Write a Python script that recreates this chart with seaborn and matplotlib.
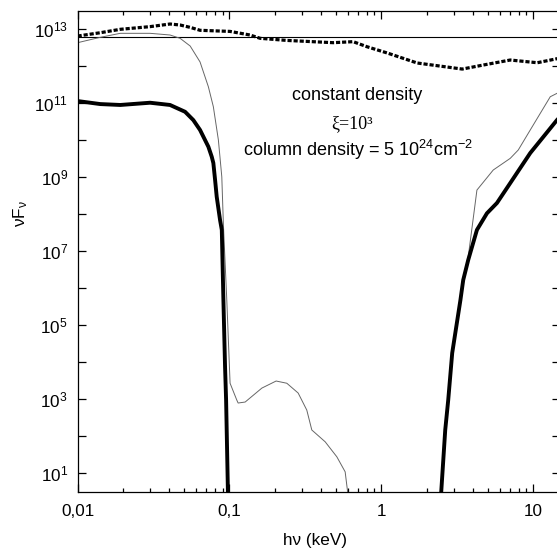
import matplotlib
matplotlib.use("Agg")
import matplotlib.pyplot as plt
import numpy as np
import pandas as pd
import seaborn as sns
from matplotlib.ticker import FixedLocator, FuncFormatter, NullLocator

# ---------------- data ----------------
hv_const = [0.01, 15.0]
flux_const = [5.8e12, 5.8e12]

hv_dotted = [0.0100, 0.0141, 0.0191, 0.0300, 0.0406, 0.0473, 0.0551, 0.0640,
             0.1009, 0.1364, 0.1592, 0.2385, 0.4815, 0.652, 0.803, 1.092,
             1.721, 3.406, 4.685, 7.056, 10.63, 15.0]
flux_dotted = [6.3e12, 7.74e12, 9.57e12, 1.13e13, 1.33e13, 1.25e13, 1.08e13, 9.0e12,
               8.4e12, 6.72e12, 5.47e12, 4.8e12, 4.17e12, 4.44e12, 3.25e12, 2.20e12,
               1.18e12, 8.1e11, 1.04e12, 1.42e12, 1.20e12, 1.6e12]

hv_thick_lo = [0.0100, 0.0141, 0.0191, 0.0300, 0.0406, 0.0510, 0.0578, 0.0640,
               0.0726, 0.0764, 0.0783, 0.0804, 0.0824, 0.0867, 0.0890, 0.0912,
               0.0935, 0.0950, 0.0982]
flux_thick_lo = [1.11e11, 9.2e10, 8.7e10, 1.0e11, 8.7e10, 5.7e10, 3.4e10, 1.84e10,
                 6.5e9, 3.5e9, 2.36e9, 8.2e8, 2.9e8, 6.8e7, 3.7e7, 4.75e5,
                 7.5e3, 950, 1.0]

hv_thin_lo = [0.0100, 0.0141, 0.0191, 0.0300, 0.0406, 0.0473, 0.0551, 0.0640,
              0.0726, 0.0783, 0.0845, 0.0890, 0.0912, 0.0960, 0.1009, 0.1117,
              0.1140, 0.1268, 0.1634, 0.2028, 0.2385, 0.2832, 0.3228, 0.3483,
              0.4266, 0.509, 0.5775, 0.5999, 0.62]
flux_thin_lo = [4.17e12, 5.82e12, 7.46e12, 7.46e12, 6.72e12, 5.47e12, 3.39e12, 1.26e12,
                2.70e11, 7.8e10, 9.9e9, 1.0e9, 5e7, 4.75e5, 2.7e3, 950,
                790, 840, 2.0e3, 3.1e3, 2.7e3, 1.47e3, 510, 148,
                71, 28, 11, 3.1, 1.0]

hv_thick_hi = [2.42, 2.477, 2.633, 2.755, 2.927, 3.315, 3.459, 3.73, 4.257,
               4.955, 5.767, 7.056, 9.556, 14.32, 15.0]
flux_thick_hi = [1.0, 3.1, 148, 950, 1.77e4, 4.75e5, 1.65e6, 5.7e6, 3.7e7,
                 1.04e8, 1.97e8, 6.8e8, 4.4e9, 3.4e10, 4.2e10]

hv_thin_hi = [2.42, 2.477, 2.633, 2.755, 2.927, 3.315, 3.459, 3.68, 4.257,
              5.452, 7.056, 7.965, 9.556, 12.94, 14.32, 15.0]
flux_thin_hi = [1.0, 3.1, 148, 950, 1.77e4, 4.75e5, 1.65e6, 4.5e6, 4.4e8,
                1.53e9, 3.16e9, 5.3e9, 1.84e10, 1.45e11, 1.79e11, 2.0e11]

x_major = [0.01, 0.1, 1, 10]
x_major_labels = ["0,01", "0,1", "1", "10"]
y_exponents = list(range(0, 15))

# ---------------- style ----------------
sns.set_theme(style="ticks")
plt.rcParams.update({
    "font.family": ["Liberation Sans", "DejaVu Sans"],
    "mathtext.fontset": "custom",
    "mathtext.rm": "Liberation Sans",
    "mathtext.it": "Liberation Sans:italic",
    "mathtext.bf": "Liberation Sans:bold",
    "axes.edgecolor": "black",
    "axes.linewidth": 0.9,
    "xtick.color": "black",
    "ytick.color": "black",
    "text.color": "black",
    "axes.labelcolor": "black",
    "figure.facecolor": "white",
    "axes.facecolor": "white",
})

fig = plt.figure(figsize=(5.57, 5.52), dpi=100)
ax = fig.add_axes([77.6 / 557, 60 / 552, (560 - 77.6) / 557, (492 - 11) / 552])
ax.set_xscale("log")
ax.set_yscale("log")

def draw(x, y, **kw):
    df = pd.DataFrame({"hv": x, "flux": y})
    sns.lineplot(data=df, x="hv", y="flux", ax=ax, sort=False, estimator=None, **kw)

draw(hv_const, flux_const, color="black", linewidth=0.8)
draw(hv_thin_lo, flux_thin_lo, color="#666666", linewidth=0.7)
draw(hv_thin_hi, flux_thin_hi, color="#666666", linewidth=0.7)
draw(hv_thick_lo, flux_thick_lo, color="black", linewidth=2.8)
draw(hv_thick_hi, flux_thick_hi, color="black", linewidth=2.8)
draw(hv_dotted, flux_dotted, color="black", linewidth=2.3, linestyle=(0, (1.3, 0.6)))

ax.set_xlim(0.01, 15.0)
ax.set_ylim(10 ** 0.497, 10 ** 13.475)

ax.xaxis.set_major_locator(FixedLocator(x_major))
ax.xaxis.set_major_formatter(FuncFormatter(
    lambda v, p: x_major_labels[x_major.index(v)] if v in x_major else ""))
ax.xaxis.set_minor_locator(FixedLocator(
    [m * 10.0 ** d for d in range(-2, 2) for m in range(2, 10)]))

ax.yaxis.set_major_locator(FixedLocator([10.0 ** k for k in y_exponents]))
ax.yaxis.set_major_formatter(FuncFormatter(
    lambda v, p: (r"$10^{%d}$" % round(np.log10(v))) if round(np.log10(v)) % 2 == 1 else ""))
ax.yaxis.set_minor_locator(NullLocator())

ax.tick_params(which="both", direction="in", top=True, right=True, width=0.9)
ax.tick_params(which="major", length=5.8, labelsize=12.3)
ax.tick_params(which="minor", length=2.9)
ax.tick_params(axis="y", pad=7)
ax.tick_params(axis="x", pad=8.5)
ax.spines["right"].set_visible(False)

ax.set_xlabel("hν (keV)", fontsize=12.3)
ax.xaxis.set_label_coords((315 - 77.6) / 482.4, (492 - 540) / 481)
ax.xaxis.label.set_va("center")
ax.set_ylabel(r"$\mathrm{\nu F_{\nu}}$", fontsize=12.3)
ax.yaxis.set_label_coords((21 - 77.6) / 482.4, (492 - 214) / 481)
ax.yaxis.label.set_va("center")

def ax_xy(px, py):
    return (px - 77.6) / 482.4, (492 - py) / 481

x0, y0 = ax_xy(357, 100)
ax.text(x0, y0, "constant density", transform=ax.transAxes, ha="center",
        va="baseline", fontsize=13)
x0, y0 = ax_xy(352, 128)
ax.text(x0, y0, "ξ=10³", transform=ax.transAxes, ha="center", va="baseline",
        fontsize=13, family=["Liberation Serif", "DejaVu Serif"])
x0, y0 = ax_xy(358, 156)
ax.text(x0, y0, r"column density = 5 10$^{24}$cm$^{-2}$", transform=ax.transAxes,
        ha="center", va="baseline", fontsize=13)

fig.savefig("out.png", dpi=100)
